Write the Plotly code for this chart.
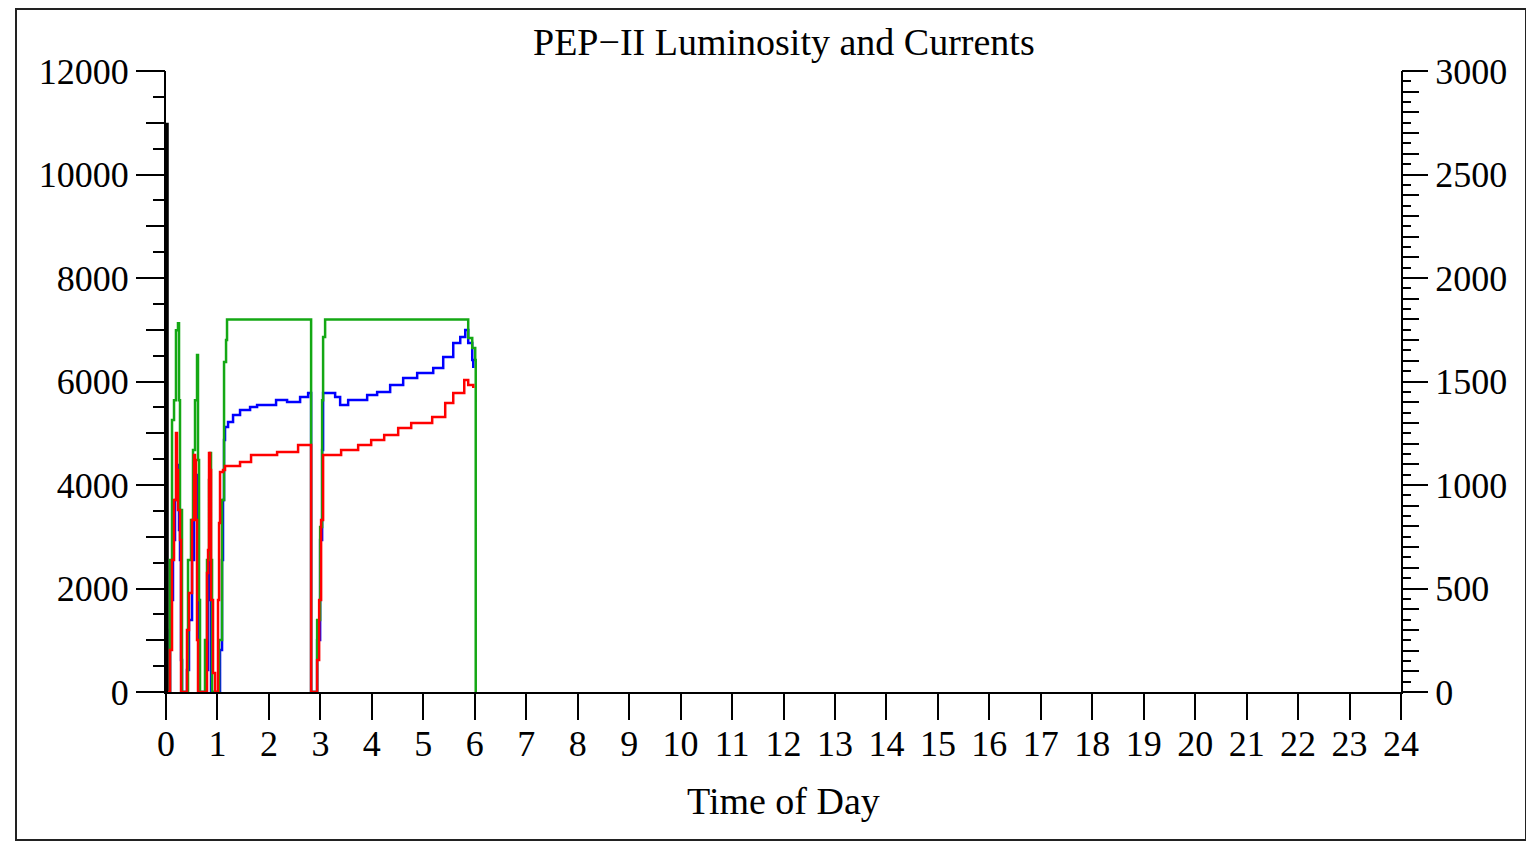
import plotly.graph_objects as go

# ---- data (hours of day) ----
green_hours = [0.058, 0.078, 0.117, 0.156, 0.194, 0.233, 0.253, 0.272, 0.292, 0.311,
               0.408, 0.428, 0.486, 0.525, 0.564, 0.603, 0.622, 0.642, 0.661,
               0.739, 0.758, 0.797, 0.836, 0.856, 0.875, 0.895,
               0.992, 1.031, 1.089, 1.128, 1.167, 1.186, 2.800, 2.820,
               2.898, 2.937, 2.995, 3.034, 3.053, 3.092, 5.815, 5.873, 5.951, 6.009, 6.019]
green_ma = [0, 638, 1314, 1410, 1748, 1782, 1410, 879, 879, 0,
            0, 638, 831, 1169, 1410, 1628, 1121, 444, 0,
            0, 251, 638, 1024, 1154, 638, 0,
            0, 251, 927, 1594, 1700, 1800, 1800, 0,
            0, 348, 797, 1410, 1715, 1800, 1800, 1710, 1662, 1604, 0]

blue_hours = [0.039, 0.078, 0.097, 0.136, 0.175, 0.214, 0.233, 0.253, 0.272, 0.292, 0.311,
              0.389, 0.408, 0.447, 0.506, 0.545, 0.583, 0.603, 0.622, 0.642,
              0.758, 0.778, 0.817, 0.836, 0.856, 0.875,
              1.011, 1.050, 1.089, 1.108, 1.128, 1.147, 1.206, 1.303, 1.439, 1.634, 1.770,
              2.139, 2.353, 2.606, 2.762, 2.800, 2.820,
              2.898, 2.937, 2.995, 3.034, 3.053, 3.189, 3.287, 3.384, 3.540, 3.715, 3.909,
              4.103, 4.356, 4.609, 4.881, 5.076, 5.193, 5.387, 5.582, 5.718, 5.815,
              5.873, 5.951, 5.971]
blue_lumi = [0, 1198, 1777, 2937, 3709, 4386, 4289, 3130, 2550, 618, 0,
             0, 425, 1391, 2550, 3709, 4192, 3709, 1777, 0,
             0, 425, 1777, 2550, 1777, 0,
             0, 811, 2550, 3709, 4869, 5120, 5216, 5352, 5448, 5506, 5545,
             5641, 5603, 5699, 5777, 5777, 0,
             0, 1005, 2937, 4675, 5777, 5777, 5699, 5545, 5641, 5641, 5738,
             5796, 5931, 6066, 6163, 6163, 6260, 6472, 6743, 6859, 6994,
             6743, 6414, 6260]

red_hours = [0.039, 0.078, 0.117, 0.156, 0.194, 0.214, 0.233, 0.272, 0.292,
             0.389, 0.408, 0.447, 0.506, 0.545, 0.564, 0.583, 0.603, 0.622,
             0.778, 0.797, 0.817, 0.836, 0.856, 0.875, 0.914, 0.953,
             0.992, 1.011, 1.031, 1.050, 1.108, 1.147, 1.400, 1.439, 1.634, 1.653,
             2.120, 2.159, 2.548, 2.567, 2.800, 2.820,
             2.898, 2.937, 2.976, 3.014, 3.053, 3.384, 3.403, 3.715, 3.734, 3.968, 3.987,
             4.220, 4.240, 4.492, 4.512, 4.745, 4.765, 5.134, 5.173, 5.329, 5.426,
             5.523, 5.582, 5.718, 5.796, 5.873, 5.971]
red_ma = [0, 203, 638, 927, 1251, 1072, 879, 734, 0,
          0, 299, 478, 831, 1145, 1121, 831, 251, 0,
          0, 575, 686, 1154, 1072, 444, 92, 0,
          0, 444, 816, 1063, 1072, 1092, 1092, 1111, 1111, 1145,
          1145, 1159, 1159, 1193, 1193, 0,
          0, 155, 444, 831, 1145, 1145, 1169, 1169, 1193, 1193, 1217,
          1217, 1241, 1241, 1275, 1275, 1299, 1299, 1328, 1328, 1396,
          1396, 1444, 1444, 1507, 1483, 1468]

black_hours = [0.02, 0.02]
black_values = [0, 11000]

x_ticks = list(range(0, 25))
left_ticks = list(range(0, 12001, 2000))
right_ticks = list(range(0, 3001, 500))

FONT = "Liberation Serif"

fig = go.Figure()
fig.add_trace(go.Scatter(x=green_hours, y=green_ma, mode="lines", yaxis="y2",
                         line=dict(color="#14a814", width=2.5, shape="hv"), name="LER current"))
fig.add_trace(go.Scatter(x=red_hours, y=red_ma, mode="lines", yaxis="y2",
                         line=dict(color="#ff0000", width=2.5, shape="hv"), name="HER current"))
fig.add_trace(go.Scatter(x=blue_hours, y=blue_lumi, mode="lines", yaxis="y",
                         line=dict(color="#0000ff", width=2.5, shape="hv"), name="Luminosity"))
fig.add_trace(go.Scatter(x=black_hours, y=black_values, mode="lines", yaxis="y",
                         line=dict(color="#000000", width=3.5), name="Integrated"))
# empty traces to activate the tick-only overlay axes
fig.add_trace(go.Scatter(x=[], y=[], yaxis="y3", showlegend=False, hoverinfo="skip"))
fig.add_trace(go.Scatter(x=[], y=[], yaxis="y4", showlegend=False, hoverinfo="skip"))

tickfont = dict(family=FONT, size=36, color="black")

# page body has an 8px margin; figure is sized/offset to compensate
W, H = 1526, 835
ML, MR, MT, MB = 158, 133, 63, 151
PW, PH = W - ML - MR, H - MT - MB  # 1235 x 621

fig.update_layout(
    width=W, height=H,
    margin=dict(l=ML, r=MR, t=MT, b=MB, pad=0),
    paper_bgcolor="white", plot_bgcolor="white",
    showlegend=False,
    xaxis=dict(range=[0, 24], tickvals=x_ticks, ticktext=[str(v) for v in x_ticks],
               ticks="outside", ticklen=26, tickwidth=2, tickcolor="black",
               showline=True, linewidth=2, linecolor="black", showgrid=False,
               zeroline=False, tickfont=tickfont, fixedrange=True),
    yaxis=dict(range=[0, 12000], tickvals=left_ticks, ticktext=[str(v) for v in left_ticks],
               ticks="outside", ticklen=28,
               tickwidth=2, tickcolor="black", showline=True, linewidth=2,
               linecolor="black", showgrid=False, zeroline=False, tickfont=tickfont),
    yaxis3=dict(range=[0, 12000], overlaying="y", side="left", tick0=0, dtick=1000,
                ticks="outside", ticklen=19, tickwidth=2, tickcolor="black",
                showticklabels=False, showline=False, showgrid=False, zeroline=False,
                minor=dict(dtick=500, ticks="outside", ticklen=12, tickwidth=2,
                           tickcolor="black", showgrid=False)),
    yaxis2=dict(range=[0, 3000], overlaying="y", side="right", tickvals=right_ticks,
                ticktext=[str(v) for v in right_ticks],
                ticks="outside", ticklen=25, tickwidth=2, tickcolor="black",
                showline=True, linewidth=2, linecolor="black", showgrid=False,
                zeroline=False, tickfont=tickfont),
    yaxis4=dict(range=[0, 3000], overlaying="y", side="right", tick0=0, dtick=100,
                ticks="outside", ticklen=17, tickwidth=2, tickcolor="black",
                showticklabels=False, showline=False, showgrid=False, zeroline=False,
                minor=dict(dtick=50, ticks="outside", ticklen=9, tickwidth=2,
                           tickcolor="black", showgrid=False)),
    annotations=[
        dict(text="PEP\u2212II Luminosity and Currents", xref="paper", yref="paper",
             x=0.5, y=1 + 29 / PH, xanchor="center", yanchor="middle",
             showarrow=False, font=dict(family=FONT, size=38, color="black")),
        dict(text="Time of Day", xref="paper", yref="paper",
             x=0.5, y=-(801 - 692) / PH, xanchor="center", yanchor="middle",
             showarrow=False, font=dict(family=FONT, size=38, color="black")),
    ],
    shapes=[
        dict(type="rect", xref="paper", yref="paper",
             x0=(16 - 166) / PW, x1=(1526 - 166) / PW,
             y0=(692 - 840) / PH, y1=(692 - 9) / PH,
             line=dict(color="#222222", width=2), fillcolor="rgba(0,0,0,0)", layer="below"),
    ],
)

try:
    fig.update_xaxes(ticklabelstandoff=-7)
except Exception:
    pass

fig.write_html("out.html")
